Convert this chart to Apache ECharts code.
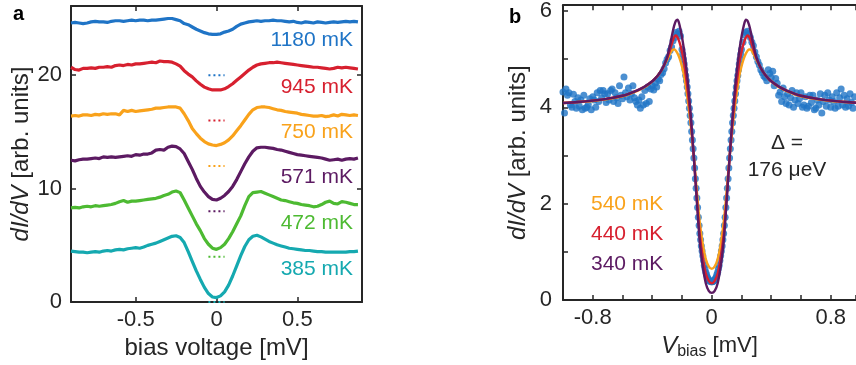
<!DOCTYPE html>
<html><head><meta charset="utf-8">
<script src="https://cdn.jsdelivr.net/npm/echarts@6/dist/echarts.min.js"></script>
<style>html,body{margin:0;padding:0;background:#fff}#c{width:856px;height:365px}</style>
</head><body><div id="c"></div>
<script>
// ---------------- Panel a data ----------------
const biasA = [-0.9,-0.875,-0.85,-0.825,-0.8,-0.775,-0.75,-0.725,-0.7,-0.675,-0.65,-0.625,-0.6,-0.575,-0.55,-0.525,-0.5,-0.475,-0.45,-0.425,-0.4,-0.375,-0.35,-0.325,-0.3,-0.275,-0.25,-0.225,-0.2,-0.175,-0.15,-0.125,-0.1,-0.075,-0.05,-0.025,0,0.025,0.05,0.075,0.1,0.125,0.15,0.175,0.2,0.225,0.25,0.275,0.3,0.325,0.35,0.375,0.4,0.425,0.45,0.475,0.5,0.525,0.55,0.575,0.6,0.625,0.65,0.675,0.7,0.725,0.75,0.775,0.8,0.825,0.85,0.875];
const dIdV_1180 = [24.6,24.65,24.6,24.55,24.6,24.7,24.75,24.7,24.7,24.65,24.75,24.8,24.8,24.75,24.8,24.85,24.8,24.85,24.85,24.8,24.85,24.85,24.9,24.95,25.0,25.0,24.9,24.8,24.55,24.45,24.25,24.05,23.9,23.75,23.65,23.6,
  23.6,23.65,23.8,23.9,24.05,24.3,24.5,24.6,24.7,24.75,24.8,24.75,24.8,24.8,24.85,24.8,24.8,24.75,24.7,24.75,24.65,24.6,24.7,24.65,24.6,24.7,24.65,24.6,24.65,24.7,24.65,24.7,24.75,24.7,24.75,24.7];
const dIdV_945 = [20.7,20.5,20.45,20.6,20.6,20.65,20.6,20.7,20.7,20.75,20.7,20.85,20.9,20.85,20.95,20.9,21.0,21.0,21.05,21.1,21.15,21.1,21.25,21.2,21.2,21.15,21.0,20.8,20.4,20.1,19.85,19.5,19.2,18.95,18.8,18.7,
  18.7,18.7,18.8,19.0,19.25,19.55,19.85,20.15,20.45,20.7,20.9,21.0,21.05,21.1,21.1,21.15,21.1,21.05,21.0,20.95,20.9,20.85,20.8,20.75,20.7,20.7,20.65,20.6,20.55,20.6,20.7,20.65,20.7,20.65,20.6,20.55];
const dIdV_750 = [16.4,16.45,16.4,16.5,16.5,16.45,16.55,16.5,16.6,16.55,16.6,16.6,16.5,16.9,16.8,16.9,16.8,16.85,16.9,16.95,17.0,17.1,17.1,17.15,17.2,17.2,17.2,17.1,16.6,16.0,15.3,14.85,14.45,14.15,13.95,13.85,
  13.8,13.9,14.05,14.3,14.65,15.1,15.55,16.05,16.55,16.95,17.15,17.2,17.2,17.15,17.05,16.95,16.9,16.8,16.75,16.7,16.65,16.55,16.5,16.45,16.4,16.4,16.45,16.35,16.4,16.5,16.4,16.55,16.5,16.45,16.5,16.45];
const dIdV_571 = [12.5,12.45,12.55,12.6,12.6,12.65,12.7,12.65,12.8,12.75,12.8,12.75,12.8,12.85,12.9,12.85,13.0,12.95,13.05,13.05,13.15,13.4,13.45,13.4,13.65,13.75,13.7,13.5,13.1,12.4,11.7,10.9,10.2,9.7,9.3,9.05,
  9.0,9.15,9.4,9.75,10.2,10.8,11.5,12.2,12.8,13.3,13.6,13.65,13.65,13.6,13.55,13.45,13.4,13.3,13.2,13.1,13.0,12.95,12.9,12.85,12.8,12.75,12.7,12.6,12.5,12.55,12.6,12.5,12.6,12.65,12.6,12.7];
const dIdV_472 = [8.3,8.35,8.3,8.4,8.45,8.4,8.5,8.45,8.5,8.55,8.6,8.7,8.85,8.95,8.8,8.9,8.9,8.95,9.0,9.05,9.1,9.15,9.25,9.4,9.5,9.7,9.8,9.65,9.0,8.3,7.6,6.9,6.3,5.6,5.1,4.75,
  4.65,4.8,5.1,5.6,6.2,6.9,7.6,8.5,9.3,9.65,9.7,9.75,9.6,9.45,9.3,9.15,9.0,8.95,8.85,8.75,8.7,8.6,8.55,8.5,8.4,8.45,8.6,8.8,8.9,8.7,8.65,8.85,8.8,8.7,8.6,8.6];
const dIdV_385 = [4.5,4.45,4.4,4.4,4.35,4.4,4.45,4.4,4.5,4.55,4.5,4.6,4.65,4.6,4.7,4.75,4.8,4.75,4.85,5.0,5.1,5.2,5.35,5.5,5.65,5.8,5.85,5.7,5.25,4.45,3.6,2.75,2.0,1.3,0.75,0.45,
  0.4,0.55,0.9,1.5,2.3,3.2,4.1,4.9,5.5,5.8,5.9,5.75,5.55,5.35,5.2,5.05,4.95,4.85,4.75,4.7,4.65,4.6,4.55,4.55,4.5,4.45,4.45,4.4,4.4,4.4,4.4,4.4,4.4,4.45,4.45,4.5];
const labelsA = ['1180 mK','945 mK','750 mK','571 mK','472 mK','385 mK'];
const zeroLevelsA = [20,16,12,8,4,0];
const zeroMarkSpanA = [-0.05,0.05];
const xTicksA = [-0.5,0,0.5];
const yTicksA = [0,10,20];

// ---------------- Panel b data ----------------
const biasB = [-1,-0.99,-0.98,-0.97,-0.96,-0.95,-0.94,-0.93,-0.92,-0.91,
 -0.9,-0.89,-0.88,-0.87,-0.86,-0.85,-0.84,-0.83,-0.82,-0.81,
 -0.8,-0.79,-0.78,-0.77,-0.76,-0.75,-0.74,-0.73,-0.72,-0.71,
 -0.7,-0.69,-0.68,-0.67,-0.66,-0.65,-0.64,-0.63,-0.62,-0.61,
 -0.6,-0.59,-0.58,-0.57,-0.56,-0.55,-0.54,-0.53,-0.52,-0.51,
 -0.5,-0.49,-0.48,-0.47,-0.46,-0.45,-0.44,-0.43,-0.42,-0.41,
 -0.4,-0.39,-0.38,-0.37,-0.36,-0.35,-0.34,-0.33,-0.32,-0.31,
 -0.3,-0.29,-0.28,-0.27,-0.26,-0.25,-0.24,-0.23,-0.22,-0.21,
 -0.2,-0.19,-0.18,-0.17,-0.16,-0.15,-0.14,-0.13,-0.12,-0.11,
 -0.1,-0.09,-0.08,-0.07,-0.06,-0.05,-0.04,-0.03,-0.02,-0.01,
 0,0.01,0.02,0.03,0.04,0.05,0.06,0.07,0.08,0.09,
 0.1,0.11,0.12,0.13,0.14,0.15,0.16,0.17,0.18,0.19,
 0.2,0.21,0.22,0.23,0.24,0.25,0.26,0.27,0.28,0.29,
 0.3,0.31,0.32,0.33,0.34,0.35,0.36,0.37,0.38,0.39,
 0.4,0.41,0.42,0.43,0.44,0.45,0.46,0.47,0.48,0.49,
 0.5,0.51,0.52,0.53,0.54,0.55,0.56,0.57,0.58,0.59,
 0.6,0.61,0.62,0.63,0.64,0.65,0.66,0.67,0.68,0.69,
 0.7,0.71,0.72,0.73,0.74,0.75,0.76,0.77,0.78,0.79,
 0.8,0.81,0.82,0.83,0.84,0.85,0.86,0.87,0.88,0.89,
 0.9,0.91,0.92,0.93,0.94,0.95,0.96];
const measuredB = [4.32,3.88,4.38,4.25,4.30,4.05,4.00,4.27,4.12,3.98,
 4.20,4.02,4.15,3.95,4.25,3.98,4.00,4.06,4.18,3.95,
 4.22,4.15,4.00,4.30,4.12,4.35,4.20,4.35,4.28,4.10,
 4.28,4.15,4.35,4.38,4.12,4.30,4.20,4.08,4.45,4.25,
 4.18,4.63,4.30,4.22,4.40,4.15,4.28,4.45,4.20,4.12,
 4.05,4.15,3.98,4.22,4.05,4.35,4.08,4.42,4.12,4.38,
 4.45,4.36,4.50,4.42,4.58,4.55,4.68,4.72,4.80,4.92,
 5.00,5.05,5.18,5.25,5.38,5.45,5.55,5.52,5.58,5.48,
 5.20,5.00,4.78,4.55,4.28,3.98,3.68,3.32,2.95,2.52,
 2.12,1.72,1.38,1.12,0.92,0.72,0.58,0.48,0.42,0.39,
 0.38,0.39,0.42,0.48,0.58,0.72,0.92,1.12,1.38,1.72,
 2.12,2.52,2.95,3.32,3.68,3.98,4.28,4.55,4.78,5.00,
 5.20,5.35,5.50,5.55,5.58,5.52,5.45,5.35,5.28,5.15,
 5.05,4.95,4.88,4.78,4.72,4.65,4.62,4.55,4.78,4.70,
 4.62,4.75,4.45,4.60,4.50,4.25,4.32,4.12,4.40,4.22,
 4.08,4.28,4.05,4.20,4.35,4.00,4.15,4.30,4.08,4.18,
 4.30,4.00,4.05,4.22,3.98,4.02,4.25,4.10,4.25,3.95,
 3.98,4.15,4.05,4.28,3.88,4.12,4.25,4.02,4.30,4.15,
 4.00,4.22,4.12,3.98,4.30,4.02,4.20,4.38,4.05,4.25,
 4.00,4.18,4.03,4.28,4.10,3.98,4.22];
const biasBgap = [-0.195,-0.185,-0.175,-0.165,-0.155,-0.145,-0.135,-0.125,-0.115,-0.105,-0.095,-0.085,-0.075,-0.065,-0.055,-0.045,-0.035,-0.025,-0.015,-0.005,
 0.005,0.015,0.025,0.035,0.045,0.055,0.065,0.075,0.085,0.095,0.105,0.115,0.125,0.135,0.145,0.155,0.165,0.175,0.185,0.195];
const measuredBgap = [5.10,4.90,4.66,4.42,4.13,3.83,3.50,3.14,2.74,2.32,1.92,1.55,1.25,1.02,0.82,0.65,0.53,0.45,0.40,0.38,
 0.38,0.40,0.45,0.53,0.65,0.82,1.02,1.25,1.55,1.92,2.32,2.74,3.14,3.50,3.83,4.13,4.42,4.66,4.90,5.10];
const biasFit = [-1,-0.9,-0.8,-0.7,-0.6,-0.55,-0.5,-0.45,-0.4,-0.38,-0.36,-0.34,-0.32,-0.3,-0.28,-0.27,-0.26,-0.25,-0.24,-0.23,-0.22,-0.21,-0.2,-0.19,-0.18,-0.16,-0.14,-0.12,-0.1,-0.08,-0.06,-0.04,-0.02,
 0,0.02,0.04,0.06,0.08,0.1,0.12,0.14,0.16,0.18,0.19,0.2,0.21,0.22,0.23,0.24,0.25,0.26,0.27,0.28,0.3,0.32,0.34,0.36,0.38,0.4,0.45,0.5,0.55,0.6,0.7,0.8,0.9,1];
const fit540 = [4.09,4.11,4.13,4.17,4.23,4.28,4.34,4.42,4.54,4.6,4.67,4.76,4.87,4.99,5.12,5.17,5.2,5.2,5.17,5.12,5.05,4.96,4.85,4.72,4.55,4.12,3.6,2.97,2.25,1.6,1.15,0.85,0.7,
 0.65,0.7,0.85,1.15,1.6,2.25,2.97,3.6,4.12,4.55,4.72,4.85,4.96,5.05,5.12,5.17,5.2,5.2,5.17,5.12,4.99,4.87,4.76,4.67,4.6,4.54,4.42,4.34,4.28,4.23,4.17,4.13,4.11,4.09];
const fit440 = [4.09,4.11,4.14,4.18,4.24,4.29,4.35,4.43,4.54,4.6,4.67,4.76,4.88,5.02,5.2,5.3,5.4,5.47,5.49,5.45,5.38,5.28,5.15,5.0,4.8,4.3,3.7,2.95,2.1,1.35,0.88,0.55,0.4,
 0.35,0.4,0.55,0.88,1.35,2.1,2.95,3.7,4.3,4.8,5.0,5.15,5.28,5.38,5.45,5.49,5.47,5.4,5.3,5.2,5.02,4.88,4.76,4.67,4.6,4.54,4.43,4.35,4.29,4.24,4.18,4.14,4.11,4.09];
const fit340 = [4.09,4.11,4.14,4.18,4.24,4.29,4.35,4.43,4.54,4.6,4.67,4.76,4.88,5.04,5.3,5.45,5.6,5.72,5.8,5.82,5.75,5.62,5.46,5.27,5.05,4.5,3.8,2.95,2.05,1.2,0.7,0.35,0.19,
 0.15,0.19,0.35,0.7,1.2,2.05,2.95,3.8,4.5,5.05,5.27,5.46,5.62,5.75,5.82,5.8,5.72,5.6,5.45,5.3,5.04,4.88,4.76,4.67,4.6,4.54,4.43,4.35,4.29,4.24,4.18,4.14,4.11,4.09];
const labelsB = ['540 mK','440 mK','340 mK'];
const gapLabelB = ['\u0394 =','176 \u03bceV'];
const xLabelsB = [-0.8,0,0.8];
const yLabelsB = [0,2,4,6];

// ---------------- styles ----------------
const FONT = '"Liberation Sans", Arial, Helvetica, sans-serif';
const AX = '#262626';
const colorsA = ['#1f74c6','#d7202f','#f9a21b','#5c1a62','#4dba32','#15a9b0'];
const colorsB = ['#f9a21b','#d7202f','#5c1a62'];
const dotBlue = '#1f74c6';
const seriesA = [dIdV_1180,dIdV_945,dIdV_750,dIdV_571,dIdV_472,dIdV_385];
const zip = (xs, ys) => xs.map((x,i)=>[x, ys[i]]);

const axLine = {onZero:false, lineStyle:{color:AX, width:2}};
const tickIn = extra => Object.assign({inside:true, length:5, lineStyle:{color:AX, width:1.5}}, extra||{});
const lbl = extra => Object.assign({fontSize:22, color:AX, fontFamily:FONT}, extra||{});

const series = [];
seriesA.forEach((arr,k)=>{
  series.push({type:'line', xAxisIndex:0, yAxisIndex:0, data:zip(biasA,arr), showSymbol:false,
    lineStyle:{color:colorsA[k], width:3.2}, itemStyle:{color:colorsA[k]}, silent:true});
});
zeroLevelsA.forEach((z,k)=>{
  series.push({type:'line', xAxisIndex:0, yAxisIndex:0, data:zeroMarkSpanA.map(x=>[x,z]), showSymbol:false,
    lineStyle:{color:colorsA[k], width:2, type:[2,3]}, silent:true, z:1});
});
series.push({type:'scatter', xAxisIndex:2, yAxisIndex:2, data:zip(biasB,measuredB).concat(zip(biasBgap,measuredBgap)),
  symbolSize:7, itemStyle:{color:dotBlue}, silent:true});
[fit540, fit440, fit340].forEach((arr,k)=>{
  series.push({type:'line', xAxisIndex:2, yAxisIndex:2, data:zip(biasFit,arr), showSymbol:false, smooth:0.3,
    lineStyle:{color:colorsB[k], width:2.4}, silent:true, z:3+k});
});

const textEl = (t, x, y, color, align, size, weight) => ({type:'text', x:x, y:y, silent:true,
  style:{text:t, fill:color, fontSize:size||21, fontFamily:FONT, fontWeight:weight||'normal', align:align||'left', verticalAlign:'middle'}});
const labelYA = [40, 87, 132, 177, 223, 269];
const labelYB = [204, 234, 264];
const graphic = [
  textEl('a', 13, 14, '#000', 'left', 20, 'bold'),
  textEl('b', 509, 17, '#000', 'left', 20, 'bold'),
  ...labelsA.map((t,k)=>textEl(t, 353, labelYA[k], colorsA[k], 'right', 21)),
  ...labelsB.map((t,k)=>textEl(t, 591, labelYB[k], colorsB[k], 'left', 21)),
  textEl(gapLabelB[0], 787, 143, AX, 'center', 21),
  textEl(gapLabelB[1], 787, 170, AX, 'center', 21)
];

const option = {
  animation:false,
  backgroundColor:'#fff',
  grid:[{left:71, top:6, width:291, height:297}, {left:563, top:5, width:293, height:298.3}],
  xAxis:[
    {gridIndex:0, type:'value', min:-0.9, max:0.9, position:'bottom', axisLine:axLine,
     axisTick:tickIn({customValues:xTicksA}), axisLabel:lbl({customValues:xTicksA, margin:7}), splitLine:{show:false},
     name:'bias voltage [mV]', nameLocation:'middle', nameGap:30,
     nameTextStyle:{fontSize:24, color:AX, fontFamily:FONT}},
    {gridIndex:0, type:'value', min:-0.9, max:0.9, position:'top', axisLine:axLine,
     axisTick:tickIn({customValues:xTicksA}), axisLabel:{show:false}, splitLine:{show:false}},
    {gridIndex:1, type:'value', min:-1, max:0.97, interval:0.2, position:'bottom', axisLine:axLine,
     axisTick:tickIn(), axisLabel:lbl({customValues:xLabelsB, margin:7}), splitLine:{show:false},
     name:'{i|V}{s|bias} [mV]', nameLocation:'middle', nameGap:28,
     nameTextStyle:{fontSize:22, color:AX, fontFamily:FONT,
       rich:{i:{fontStyle:'italic', fontSize:24, color:AX, fontFamily:FONT},
             s:{fontSize:16, color:AX, fontFamily:FONT, padding:[12,0,0,0]}}}},
    {gridIndex:1, type:'value', min:-1, max:0.97, interval:0.2, position:'top', axisLine:axLine,
     axisTick:tickIn(), axisLabel:{show:false}, splitLine:{show:false}}
  ],
  yAxis:[
    {gridIndex:0, type:'value', min:0, max:26.1, interval:10, position:'left', axisLine:axLine,
     axisTick:tickIn({customValues:yTicksA}), axisLabel:lbl({customValues:yTicksA, margin:9}), splitLine:{show:false},
     name:'{i|dI/dV} [arb. units]', nameLocation:'middle', nameGap:38,
     nameTextStyle:{fontSize:24, color:AX, fontFamily:FONT, rich:{i:{fontStyle:'italic', fontSize:24, color:AX, fontFamily:FONT}}}},
    {gridIndex:0, type:'value', min:0, max:26.1, interval:10, position:'right', axisLine:axLine,
     axisTick:tickIn({customValues:yTicksA}), axisLabel:{show:false}, splitLine:{show:false}},
    {gridIndex:1, type:'value', min:0, max:6.12, interval:1, position:'left', axisLine:axLine,
     axisTick:tickIn(), axisLabel:lbl({customValues:yLabelsB, margin:11}), splitLine:{show:false},
     name:'{i|dI/dV} [arb. units]', nameLocation:'middle', nameGap:33,
     nameTextStyle:{fontSize:24, color:AX, fontFamily:FONT, rich:{i:{fontStyle:'italic', fontSize:24, color:AX, fontFamily:FONT}}}}
  ],
  series:series,
  graphic:graphic
};
const chart = echarts.init(document.getElementById('c'), null, {renderer:'canvas'});
chart.setOption(option);
</script>
</body></html>
